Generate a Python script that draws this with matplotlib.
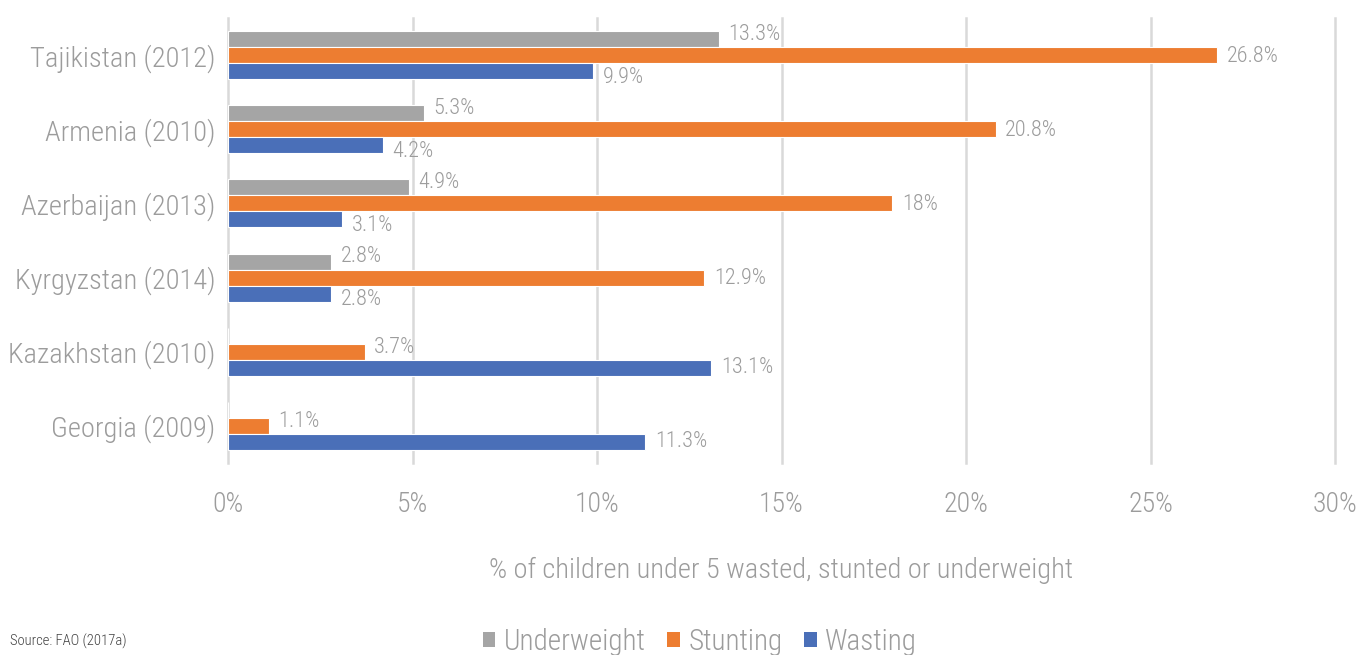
import matplotlib
matplotlib.use("Agg")
import matplotlib.pyplot as plt
from matplotlib import font_manager as fm
import numpy as np
from matplotlib.patches import Patch

countries = ["Tajikistan (2012)", "Armenia (2010)", "Azerbaijan (2013)",
             "Kyrgyzstan (2014)", "Kazakhstan (2010)", "Georgia (2009)"]
underweight = [13.3, 5.3, 4.9, 2.8, np.nan, np.nan]
stunting = [26.8, 20.8, 18.0, 12.9, 3.7, 1.1]
wasting = [9.9, 4.2, 3.1, 2.8, 13.1, 11.3]
series_names = ["Underweight", "Stunting", "Wasting"]
colors = ["#A5A5A5", "#ED7D31", "#4A6FB8"]
xticks = [0, 5, 10, 15, 20, 25, 30]

# pick a condensed font if one is installed
files = [f.fname for f in fm.fontManager.ttflist]
chosen = None
for key in ["RobotoCondensed-Light.", "RobotoCondensed-Regular", "LiberationSansNarrow-Regular",
            "DejaVuSansCondensed.ttf", "NotoSans-CondensedLight", "NotoSans-Condensed.ttf",
            "OpenSans-CondensedRegular", "Condensed", "Narrow"]:
    hits = [p for p in files if key.lower() in p.lower() and "bold" not in p.lower()
            and "italic" not in p.lower() and "oblique" not in p.lower()]
    if hits:
        chosen = sorted(hits, key=len)[0]
        break
condensed = chosen is not None
def FP(size):
    if condensed:
        return fm.FontProperties(fname=chosen, size=size)
    return fm.FontProperties(family="DejaVu Sans", size=size * 0.8)

txt = "#9C9C9C"

fig = plt.figure(figsize=(13.57, 6.55), dpi=100)
ax = fig.add_axes([228/1357, 1-463/655, (1335-228)/1357, (463-18)/655])

y = np.arange(len(countries))
h = 0.215
data = [underweight, stunting, wasting]
offs = [-h, 0, h]
for vals, off, c in zip(data, offs, colors):
    ax.barh(y + off, np.nan_to_num(vals), height=h, color=c, edgecolor="white", linewidth=0.8, zorder=3)

def fmt(v):
    return f"{v:g}%"

for i in range(len(countries)):
    has_u = not np.isnan(underweight[i])
    dy = [5, -1, -6] if has_u else [0, 4, 0]
    for k, vals in enumerate(data):
        v = vals[i]
        if np.isnan(v):
            continue
        ax.annotate(fmt(v), (v, y[i] + offs[k]), xytext=(7, dy[k] * 0.72),
                    textcoords="offset points", va="center", ha="left",
                    fontproperties=FP(16), color=txt, zorder=4)

ax.set_xlim(0, 30)
ax.set_ylim(len(countries) - 0.5, -0.5)
ax.set_xticks(xticks)
ax.set_xticklabels([f"{t}%" for t in xticks], color=txt)
ax.set_yticks(y)
ax.set_yticklabels(countries, color=txt)
for lab in ax.get_xticklabels():
    lab.set_fontproperties(FP(20))
for lab in ax.get_yticklabels():
    lab.set_fontproperties(FP(20.5))
ax.tick_params(axis="x", length=0, pad=20)
ax.tick_params(axis="y", length=0, pad=9)
for s in ax.spines.values():
    s.set_visible(False)
for t in xticks:
    ax.axvline(t, color="#D9D9D9", linewidth=1.8, zorder=0, clip_on=False)
ax.set_xlabel("% of children under 5 wasted, stunted or underweight", color=txt,
              labelpad=28, fontproperties=FP(20.5))

handles = [Patch(facecolor=c, edgecolor="none") for c in colors]
fig.legend(handles, series_names, loc="center", bbox_to_anchor=(700/1357, 1-642/655),
           ncol=3, frameon=False, prop=FP(21), labelcolor=txt,
           handlelength=0.42, handleheight=0.42, handletextpad=0.3, columnspacing=0.75)
fig.text(10/1357, 1-641/655, "Source: FAO (2017a)", fontproperties=FP(10.5), color="#404040",
         va="center", ha="left")

fig.savefig("out.png", dpi=100)
